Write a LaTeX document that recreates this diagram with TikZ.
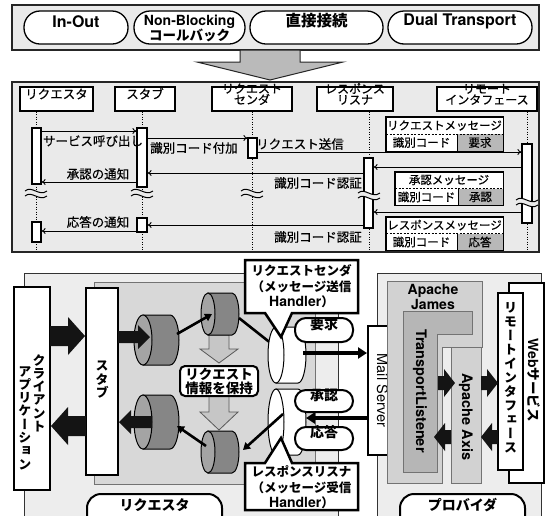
\documentclass[tikz,border=0pt]{standalone}
\usepackage{fontspec}
\newfontfamily\jp{Noto Sans CJK JP}
\newfontfamily\jpm{Noto Sans CJK JP}[FakeBold=0.6]
\newfontfamily\jpv{Noto Sans CJK JP}[RawFeature=+vert]
\newfontfamily\hv{TeX Gyre Heros}
\usetikzlibrary{arrows.meta,fit}
\definecolor{frameBg}{HTML}{EAEAEA}
\definecolor{contBg}{HTML}{EDEDED}
\definecolor{innerBg}{HTML}{D8D8D8}
\definecolor{jamesBg}{HTML}{D2D2D2}
\definecolor{tlBg}{HTML}{B6B6B6}
\definecolor{drumBody}{HTML}{868686}
\definecolor{drumFace}{HTML}{A4A4A4}
\definecolor{cellGray}{HTML}{B8B8B8}
\definecolor{bigArrow}{HTML}{BABABA}
\definecolor{downArrow}{HTML}{C6C6C6}

\newcommand\drum[7]{%
  \filldraw[fill=#6,line width=1pt] ({#1},{#2-#4}) -- ({#1+#5},{#2-#4})
     arc[start angle=-90,end angle=90,x radius=#3,y radius=#4] -- ({#1},{#2+#4}) -- cycle;
  \filldraw[fill=#7,line width=1pt] ({#1},{#2}) ellipse[x radius=#3,y radius=#4];
}
\newcommand\blkarrow[6]{%
  \pgfmathsetmacro\hbase{#2-sign(#2-#1)*#6}%
  \fill[black!92] ({#1},{#3-#4}) -- (\hbase,{#3-#4}) -- (\hbase,{#3-#5}) -- ({#2},{#3})
     -- (\hbase,{#3+#5}) -- (\hbase,{#3+#4}) -- ({#1},{#3+#4}) -- cycle;
}
\newcommand\grayarrow[6]{%
  \filldraw[fill=downArrow,draw=black!65,line width=0.8pt] ({#1-#5},{#2}) -- ({#1+#5},{#2})
     -- ({#1+#5},{#3}) -- ({#1+#6},{#3}) -- ({#1},{#4}) -- ({#1-#6},{#3}) -- ({#1-#5},{#3}) -- cycle;
}
\newcommand\brk[2]{%
  \fill[frameBg] ({#1-11},{#2-1}) .. controls ({#1-4},{#2-7}) and ({#1+3},{#2+5}) .. ({#1+11},{#2-1})
     -- ({#1+11},{#2+4}) .. controls ({#1+3},{#2+10}) and ({#1-4},{#2-2}) .. ({#1-11},{#2+4}) -- cycle;
  \draw[line width=1pt] ({#1-11},{#2-1}) .. controls ({#1-4},{#2-7}) and ({#1+3},{#2+5}) .. ({#1+11},{#2-1});
  \draw[line width=1pt] ({#1-11},{#2+4}) .. controls ({#1-4},{#2-2}) and ({#1+3},{#2+10}) .. ({#1+11},{#2+4});
}

\begin{document}
\begin{tikzpicture}[x=1pt,y=-1pt,
 frame/.style={draw=black!85,line width=2pt,fill=frameBg,inner sep=0pt},
 pilltop/.style={draw=black,line width=1.3pt,fill=white,rounded corners=16pt,inner sep=0pt},
 hdr/.style={draw=black,line width=1.2pt,fill=white,inner sep=0pt,align=center,font=\jpm\fontsize{12}{11}\selectfont},
 act/.style={draw=black,line width=1.2pt,fill=white,inner sep=0pt},
 life/.style={line width=1pt,dash pattern=on 1pt off 1.5pt},
 msg/.style={line width=0.9pt,-{To[length=4pt,width=6pt]}},
 mlab/.style={font=\jpm\fontsize{12.5}{12.5}\selectfont,inner sep=0pt},
 clab/.style={font=\jpm\fontsize{11.5}{11.5}\selectfont,inner sep=0pt},
 mbox/.style={draw=black,line width=1pt,fill=white,inner sep=0pt},
 wbox/.style={draw=black,line width=2pt,fill=white,inner sep=0pt},
 cont/.style={draw=black!80,line width=0.8pt,inner sep=0pt},
 bpill/.style={draw=black,line width=2pt,fill=white,rounded corners=11pt,inner sep=0pt,font=\jp\bfseries\fontsize{14}{14}\selectfont},
 thk/.style={line width=2.6pt,-{Triangle[length=7pt,width=8pt]}},
 thkr/.style={line width=3.6pt,-{Triangle[length=9pt,width=11pt]}},
 callout/.style={draw=black,line width=2.5pt,fill=white,line join=miter},
 ctext/.style={align=center,inner sep=0pt,font=\jp\bfseries\fontsize{12.5}{15.5}\selectfont},
 vtext/.style={align=center,inner sep=0pt,anchor=north,font=\jpv\bfseries\fontsize{13}{13.3}\selectfont},
]
\useasboundingbox (0,0) rectangle (547,515);
\clip (0,0) rectangle (547,515);

% ---------------- top section
\node[frame,fit={(12,5) (539,50)}] (topframe) {};
\node[pilltop,fit={(24,11) (128,44)},font=\hv\bfseries\fontsize{16}{16}\selectfont] (p1) {In-Out};
\node[pilltop,fit={(134,11) (245,44)}] (p2) {};
\node[inner sep=0pt,font=\hv\bfseries\fontsize{14}{14}\selectfont] (p2a) at (189.5,21.5) {Non-Blocking};
\node[inner sep=0pt,font=\jp\bfseries\fontsize{13.5}{13.5}\selectfont] (p2b) at (189.5,35) {コールバック};
\node[pilltop,fit={(250,11) (383,44)},font=\jp\bfseries\fontsize{15.5}{15.5}\selectfont] (p3) {直接接続};
\node[pilltop,fit={(388,11) (532,44)},font=\hv\bfseries\fontsize{16}{16}\selectfont] (p4) {Dual Transport};
\filldraw[fill=bigArrow,draw=black!85,line width=1pt] (240,50) -- (300,50) -- (300,62) -- (343,62) -- (270,80) -- (197,62) -- (240,62) -- cycle;

% ---------------- sequence section
\node[frame,fit={(12,82) (539,252)}] (seqframe) {};
\node[hdr,fit={(20,87) (93,111)},font=\jpm\fontsize{12.5}{12.5}\selectfont] (h1) {リクエスタ};
\node[hdr,fit={(115,87) (175,111)},font=\jpm\fontsize{12.5}{12.5}\selectfont] (h2) {スタブ};
\node[hdr,fit={(212,87) (292,111)}] (h3) {リクエスト\\センダ};
\node[hdr,fit={(317,87) (393,111)}] (h4) {レスポンス\\リスナ};
\node[hdr,fit={(437,87) (537,111)}] (h5) {リモート\\インタフェース};

\draw[life] (h1.south -| 36,0) -- (36,251);
\draw[life] (h2.south -| 142,0) -- (142,251);
\draw[life] (h3.south -| 252,0) -- (252,251);
\draw[life] (h4.south -| 369,0) -- (369,251);
\draw[life] (h5.south -| 527,0) -- (527,251);

\node[act,fit={(32,128) (41,184)}] (a1) {};
\node[act,fit={(137,128) (147,187)}] (a2) {};
\node[act,fit={(248,138) (257,158)}] (a3) {};
\node[act,fit={(364,158) (373,228)}] (a4) {};
\node[act,fit={(522,144) (532,223)}] (a5) {};
\node[act,fit={(32,222) (41,242)}] (a6) {};
\node[act,fit={(137,218) (147,232)}] (a7) {};

\draw[msg] (a1.east |- 0,131) -- (a2.west |- 0,131);
\draw[msg] (a2.east |- 0,138) -- (a3.west |- 0,138);
\draw[msg] (a3.east |- 0,152) -- (a5.west |- 0,152);
\draw[msg] (a5.west |- 0,167) -- (a4.east |- 0,167);
\draw[msg] (a4.west |- 0,173) -- (a2.east |- 0,173);
\draw[msg] (a2.west |- 0,182) -- (a1.east |- 0,182);
\draw[msg] (a5.west |- 0,212) -- (a4.east |- 0,212);
\draw[msg] (a4.west |- 0,225) -- (a7.east |- 0,225);
\draw[msg] (a7.west |- 0,231) -- (a6.east |- 0,231);

\node[mlab] (l1) at (93,141) {サービス呼び出し};
\node[mlab] (l2) at (194,148) {識別コード付加};
\node[mlab] (l3) at (300,144) {リクエスト送信};
\node[mlab] (l4) at (98,174) {承認の通知};
\node[mlab] (l5) at (318,183) {識別コード認証};
\node[mlab] (l6) at (98,222) {応答の通知};
\node[mlab] (l7) at (318,237) {識別コード認証};

\brk{36}{192}\brk{142}{192}\brk{252}{192}\brk{369}{194}\brk{527}{201}

% message boxes
\node[mbox,fit={(386,117) (503,151)}] (m1) {};
\fill[cellGray] (457,134) rectangle (503,151);
\draw[line width=0.8pt,dash pattern=on 2pt off 1.5pt] (386,134) -- (503,134);
\draw[line width=1pt] (457,134) -- (457,151);
\draw[line width=1pt] (m1.north west) rectangle (m1.south east);
\node[clab] (m1t) at (444.5,125.5) {リクエストメッセージ};
\node[clab] (m1a) at (421.5,142.5) {識別コード};
\node[clab] (m1b) at (480,142.5) {要求};

\node[mbox,fit={(395,172) (503,205)}] (m2) {};
\fill[cellGray] (458,188.5) rectangle (503,205);
\draw[line width=0.8pt,dash pattern=on 2pt off 1.5pt] (395,188.5) -- (503,188.5);
\draw[line width=1pt] (458,188.5) -- (458,205);
\draw[line width=1pt] (m2.north west) rectangle (m2.south east);
\node[clab] (m2t) at (449,180) {承認メッセージ};
\node[clab] (m2a) at (426.5,197) {識別コード};
\node[clab] (m2b) at (480.5,197) {承認};

\node[mbox,fit={(386,217) (503,250)}] (m3) {};
\fill[cellGray] (457,233.5) rectangle (503,250);
\draw[line width=0.8pt,dash pattern=on 2pt off 1.5pt] (386,233.5) -- (503,233.5);
\draw[line width=1pt] (457,233.5) -- (457,250);
\draw[line width=1pt] (m3.north west) rectangle (m3.south east);
\node[clab] (m3t) at (444.5,225) {レスポンスメッセージ};
\node[clab] (m3a) at (421.5,242) {識別コード};
\node[clab] (m3b) at (480,242) {応答};

% ---------------- bottom section
\node[cont,fill=contBg,fit={(24,273) (338,530)}] (reqc) {};
\node[cont,fill=contBg,fit={(377,273) (541,530)}] (provc) {};
\node[cont,draw=black!55,fill=innerBg,fit={(94,282) (315,484)}] (inner) {};

\node[wbox,fit={(14,287) (50,490)}] (client) {};
\node[vtext] (clientA) at (39,354) {ク\\ラ\\イ\\ア\\ン\\ト};
\node[vtext] (clientB) at (25,366) {ア\\プ\\リ\\ケ\\ー\\シ\\ョ\\ン};
\node[wbox,fit={(86,288) (118,475)}] (stubb) {};
\node[vtext] (stubt) at (102,361) {ス\\タ\\ブ};

\grayarrow{219}{335}{349}{363}{10}{19}
\grayarrow{219}{396}{412}{430}{10}{19}
\node[draw=black,line width=2pt,fill=white,rounded corners=5pt,minimum width=78pt,minimum height=30pt,inner sep=0pt,align=center,font=\jp\bfseries\fontsize{13.5}{14}\selectfont] (info) at (219,381) {リクエスト\\情報を保持};

\drum{143}{340}{9}{25}{27}{drumBody}{drumFace}
\drum{208}{314}{7}{21}{24}{drumBody}{drumFace}
\drum{143}{422}{9}{27}{27}{drumBody}{drumFace}
\drum{208}{452}{7}{21}{24}{drumBody}{drumFace}

\blkarrow{50}{85}{336}{10}{19}{17}
\blkarrow{86}{51}{426}{10}{19}{17}
\blkarrow{118}{150}{337}{6}{12}{12}
\blkarrow{152}{119}{422}{6}{12}{12}

\coordinate (dA) at (177,334);
\coordinate (dB) at (212,314);
\coordinate (dBo) at (239,318);
\coordinate (dE) at (282,352);
\coordinate (dF) at (283,414);
\coordinate (dD) at (243,450);
\coordinate (dDo) at (206,446);
\coordinate (dC) at (177,426);
\draw[thk] (dA) -- (dB);
\draw[thk] (dBo) -- (dE);

\drum{276}{355}{8}{28}{22}{white}{white}
\drum{276}{422}{8}{33}{22}{white}{white}

\draw[thk] (dF) -- (dD);
\draw[thk] (dDo) -- (dC);

\node[bpill,fit={(295,318) (353,342)}] (req) {要求};
\node[bpill,fit={(295,390) (353,412)}] (ack) {承認};
\node[bpill,fit={(295,427) (353,450)}] (resp) {応答};

\node[wbox,fit={(368,326) (397,455)}] (mail) {};
\node[rotate=-90,inner sep=0pt,font=\hv\fontsize{14.5}{14.5}\selectfont] (mailt) at (mail.center) {Mail Server};
\coordinate (dEo) at (303,353);
\coordinate (dFi) at (306,418);
\draw[thkr] (dEo) -- (mail.west |- dEo);
\draw[thkr] (mail.west |- dFi) -- (dFi);

% callouts
\draw[callout] (245,260) -- (358,260) -- (358,313) -- (292,313) -- (281,337) -- (265,313) -- (245,313) -- cycle;
\node[ctext] (sendt) at (301.5,286.5) {リクエストセンダ\\（メッセージ送信\\{\hv\fontsize{14}{15.5}\selectfont Handler}）};
\draw[callout] (245,463) -- (265,463) -- (281,438) -- (292,463) -- (358,463) -- (358,510) -- (245,510) -- cycle;
\node[ctext] (recvt) at (301.5,487.5) {レスポンスリスナ\\（メッセージ受信\\{\hv\fontsize{14}{15.5}\selectfont Handler}）};

% provider internals
\filldraw[fill=jamesBg,draw=black!55,line width=0.8pt] (387,281) -- (482,281) -- (482,347) -- (442,347) -- (442,483) -- (387,483) -- cycle;
\node[inner sep=0pt,align=center,font=\hv\bfseries\fontsize{14}{11.5}\selectfont] (jamest) at (433,297) {Apache\\James};
\filldraw[fill=tlBg,draw=black!55,line width=0.8pt] (403,311) -- (472,311) -- (472,334) -- (437,334) -- (437,472) -- (403,472) -- cycle;
\node[rotate=-90,inner sep=0pt,font=\hv\bfseries\fontsize{14.5}{14.5}\selectfont] (tlt) at (420,391) {TransportListener};
\node[cont,draw=black!55,fill=jamesBg,fit={(451,347) (481,483)}] (axis) {};
\node[rotate=-90,inner sep=0pt,font=\hv\bfseries\fontsize{14.5}{14.5}\selectfont] (axist) at (466,417) {Apache Axis};

\node[wbox,fit={(509,283) (544,483)}] (web) {};
\node[rotate=-90,inner sep=0pt,font=\bfseries\fontsize{13.5}{13.5}\selectfont] (webt) at (533.5,380) {{\hv\fontsize{14}{14}\selectfont Web}{\jp サービス}};
\node[wbox,fit={(498,293) (523,470)}] (remote) {};
\node[vtext,font=\jpv\bfseries\fontsize{13}{14}\selectfont] (remotet) at (510.5,302) {リ\\モ\\ー\\ト\\イ\\ン\\タ\\フ\\ェ\\ー\\ス};

\blkarrow{438}{455}{383}{7}{14}{11}
\blkarrow{481}{498}{383}{7}{14}{11}
\blkarrow{498}{481}{437}{7}{14}{11}
\blkarrow{451}{434}{437}{7}{14}{11}

% bottom labels
\node[wbox,rounded corners=14pt,fit={(87,494) (222,545)}] (reqlab) {};
\node[inner sep=0pt,font=\jp\bfseries\fontsize{14}{14}\selectfont] (reqlabt) at (154.5,505.5) {リクエスタ};
\node[wbox,rounded corners=14pt,fit={(400,494) (525,545)}] (provlab) {};
\node[inner sep=0pt,font=\jp\bfseries\fontsize{14}{14}\selectfont] (provlabt) at (462.5,505.5) {プロバイダ};
\end{tikzpicture}
\end{document}
